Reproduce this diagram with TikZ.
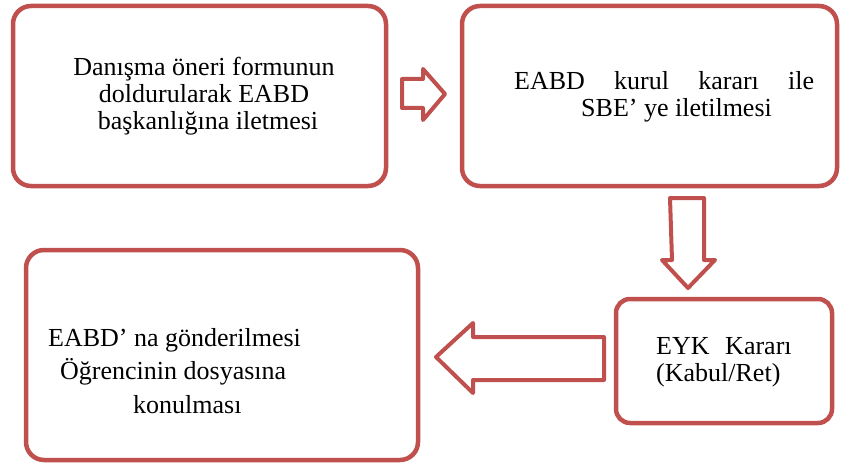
\documentclass[tikz,border=0pt]{standalone}
\usepackage{fontspec}
\setmainfont{Liberation Serif}
\definecolor{boxred}{HTML}{C0504D}
\begin{document}
\begin{tikzpicture}[x=1pt,y=-1pt,
  box/.style={draw=boxred,line width=4.5pt,rounded corners=18pt,fill=white},
  blockarrow/.style={draw=boxred,line width=4pt,line join=round,fill=white},
  txt/.style={inner sep=0pt,font=\fontsize{26}{27}\selectfont},
  txtwide/.style={inner sep=0pt,font=\fontsize{26}{33.5}\selectfont}]
\useasboundingbox (0,0) rectangle (842,468);
% boxes
\draw[box] (13,6) rectangle (386,186);
\draw[box] (462,6) rectangle (837,186);
\draw[box,rounded corners=14pt] (616,299) rectangle (832,423);
\draw[box] (26,250) rectangle (418,460);
% text
\node[txt,align=center,anchor=north] (t1) at (204,57)
  {Danışma öneri formunun\\doldurularak EABD\\\hspace*{8pt}başkanlığına iletmesi};
\node[txt,align=left,anchor=north west] (t2) at (514,71)
  {\makebox[300pt][s]{EABD kurul kararı ile}\\\hspace*{67pt}SBE’ ye iletilmesi};
\node[txt,align=left,anchor=north west] (t3) at (656,337)
  {EYK\hspace{0.6em}Kararı\\(Kabul/Ret)};
\node[txtwide,align=left,anchor=north west] (t4) at (48,328)
  {EABD\char"0027\ na gönderilmesi\\\hspace*{12pt}Öğrencinin dosyasına\\\hspace*{85pt}konulması};
% block arrows
\draw[blockarrow] (402,79) -- (423,79) -- (423,69) -- (445,94) -- (423,120)
  -- (423,108) -- (402,108) -- cycle;
\draw[blockarrow] (670,198) -- (704,198) -- (704,260) -- (715,260) -- (688,288)
  -- (662,260) -- (672,260) -- cycle;
\draw[blockarrow] (604,337) -- (473,337) -- (473,323) -- (436,357) -- (473,393)
  -- (473,380) -- (604,380) -- cycle;
\end{tikzpicture}
\end{document}
